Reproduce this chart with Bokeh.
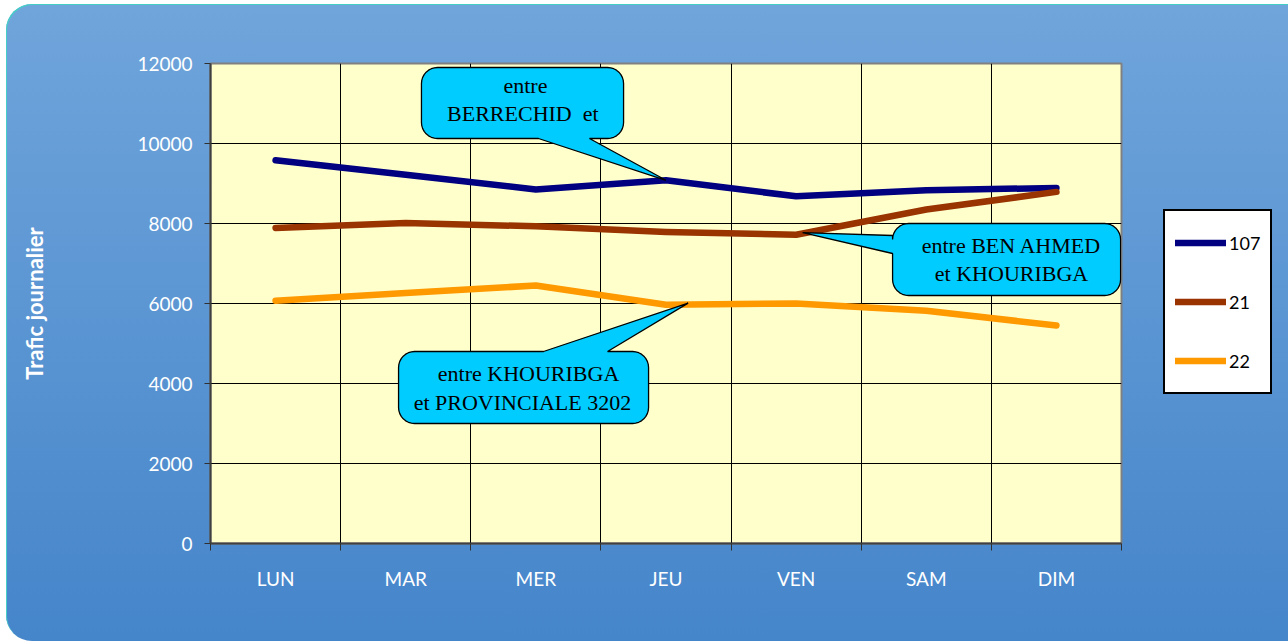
import math
from bokeh.plotting import figure
from bokeh.models import (FixedTicker, Legend, LegendItem, Range1d,
                          CustomJSTickFormatter, ColumnDataSource)
from bokeh.core.properties import value
from bokeh.embed import file_html
from bokeh.resources import INLINE

# ---------------- data ----------------
days = ["LUN", "MAR", "MER", "JEU", "VEN", "SAM", "DIM"]
route_107 = [9580, 9220, 8850, 9080, 8680, 8830, 8890]
route_21 = [7890, 8010, 7930, 7790, 7720, 8350, 8790]
route_22 = [6070, 6260, 6450, 5970, 6000, 5820, 5450]
series_names = ["107", "21", "22"]
series_colors = ["#000080", "#993300", "#FF9900"]
y_ticks = [0, 2000, 4000, 6000, 8000, 10000, 12000]
y_label = "Trafic journalier"

callout_texts = [
    ["entre", "BERRECHID\u00a0 et"],
    ["entre BEN AHMED", "et KHOURIBGA"],
    ["entre KHOURIBGA", "et PROVINCIALE 3202"],
]

# ---------------- layout ----------------
FW, FH = 911, 480
Y_MAX = 12000
N = len(days)
PX_X = FW / N
PX_Y = FH / Y_MAX

p = figure(
    frame_width=FW, frame_height=FH,
    min_border_left=204, min_border_right=167,
    min_border_top=59, min_border_bottom=98,
    x_range=Range1d(0, N), y_range=Range1d(0, Y_MAX),
    output_backend="svg", toolbar_location=None,
)
p.styles = {
    "background": "linear-gradient(#70A5DB, #4585CA)",
    "border-radius": "26px 0 0 26px",
    "margin-left": "6px",
    "margin-top": "4px",
    "box-shadow": "inset 1px 1px 0 0 #45CFC6",
}
p.border_fill_color = None
p.background_fill_color = "#FFFFCC"
p.outline_line_color = "#808080"
p.outline_line_width = 2

TICK_FONT = "Lato"

# y axis
yax = p.yaxis[0]
yax.ticker = FixedTicker(ticks=y_ticks)
yax.major_tick_out = 6
yax.major_tick_in = 0
yax.minor_tick_line_color = None
yax.major_tick_line_color = "#303030"
yax.axis_line_color = "#404040"
yax.axis_line_width = 2
yax.major_label_text_color = "white"
yax.major_label_text_font = TICK_FONT
yax.major_label_text_font_size = "19px"
yax.major_label_standoff = 12
yax.axis_label = y_label
yax.axis_label_text_color = "white"
yax.axis_label_text_font = TICK_FONT
yax.axis_label_text_font_style = "bold"
yax.axis_label_text_font_size = "22px"
yax.axis_label_standoff = 86

# x axis
xax = p.xaxis[0]
xax.ticker = FixedTicker(ticks=[i + 0.5 for i in range(N)],
                         minor_ticks=list(range(N + 1)))
xax.formatter = CustomJSTickFormatter(args=dict(labels=days),
                                      code="return labels[Math.floor(tick)];")
xax.major_tick_out = 0
xax.major_tick_in = 0
xax.major_tick_line_color = None
xax.minor_tick_out = 7
xax.minor_tick_in = 0
xax.minor_tick_line_color = "#303030"
xax.axis_line_color = "#404040"
xax.axis_line_width = 2
xax.major_label_text_color = "white"
xax.major_label_text_font = TICK_FONT
xax.major_label_text_font_size = "19px"
xax.major_label_standoff = 16

p.xgrid.ticker = FixedTicker(ticks=list(range(N + 1)))
p.xgrid.grid_line_color = "black"
p.xgrid.grid_line_width = 1
p.ygrid.grid_line_color = "black"
p.ygrid.grid_line_width = 1

# ---------------- lines ----------------
xs = [i + 0.5 for i in range(N)]
renderers = []
for vals, col in zip([route_107, route_21, route_22], series_colors):
    r = p.line(xs, vals, line_color=col, line_width=6.5,
               line_cap="round", line_join="round")
    renderers.append(r)

# ---------------- callouts ----------------
def rounded_callout(box, edge, base, tip, radius=16, n=8):
    """box=(x0,x1,v0,v1) in data units; returns polygon in data units."""
    x0, x1, v0, v1 = box
    X0, X1, Y0, Y1 = x0 * PX_X, x1 * PX_X, v0 * PX_Y, v1 * PX_Y
    tx, ty = tip[0] * PX_X, tip[1] * PX_Y
    r = radius
    pts = []

    def arc(cx, cy, a0, a1):
        for k in range(n + 1):
            a = math.radians(a0 + (a1 - a0) * k / n)
            pts.append((cx + r * math.cos(a), cy + r * math.sin(a)))

    pts.append((X0 + r, Y0))
    if edge == "bottom":
        a, b = base[0] * PX_X, base[1] * PX_X
        pts += [(a, Y0), (tx, ty), (b, Y0)]
    arc(X1 - r, Y0 + r, -90, 0)
    arc(X1 - r, Y1 - r, 0, 90)
    if edge == "top":
        a, b = base[0] * PX_X, base[1] * PX_X
        pts += [(b, Y1), (tx, ty), (a, Y1)]
    arc(X0 + r, Y1 - r, 90, 180)
    if edge == "left":
        a, b = base[0] * PX_Y, base[1] * PX_Y
        pts += [(X0, b), (tx, ty), (X0, a)]
    arc(X0 + r, Y0 + r, 180, 270)
    return [q[0] / PX_X for q in pts], [q[1] / PX_Y for q in pts]


callouts = [
    dict(box=(1.621, 3.174, 10125, 11900), edge="bottom", base=(2.52, 2.912),
         tip=(xs[3], route_107[3]),
         text_pos=[(2.42, 11450), (2.40, 10750)]),
    dict(box=(5.241, 6.993, 6200, 8000), edge="left", base=(7250, 7700),
         tip=(xs[4] + 0.05, route_21[4] + 50),
         text_pos=[(6.155, 7450), (6.155, 6750)]),
    dict(box=(1.445, 3.366, 3000, 4800), edge="top", base=(2.559, 3.051),
         tip=(xs[3] + 0.17, route_22[3] + 40),
         text_pos=[(2.444, 4250), (2.397, 3525)]),
]

for c, lines in zip(callouts, callout_texts):
    px, py = rounded_callout(c["box"], c["edge"], c["base"], c["tip"])
    p.patch(px, py, fill_color="#00CCFF", line_color="black", line_width=1.3)
    src = ColumnDataSource(dict(x=[t[0] for t in c["text_pos"]],
                                y=[t[1] for t in c["text_pos"]],
                                t=lines))
    p.text(x="x", y="y", text="t", source=src,
           text_font=value("Liberation Serif"), text_font_size="22px",
           text_color="black", text_align="center", text_baseline="middle")

# ---------------- legend ----------------
legend = Legend(
    items=[LegendItem(label=n, renderers=[r]) for n, r in zip(series_names, renderers)],
    location=(42, 149),
    orientation="vertical",
    padding=10, spacing=16, margin=0,
    glyph_width=51, glyph_height=43, label_height=43,
    label_standoff=3,
    label_text_font=TICK_FONT, label_text_font_size="18px",
    label_text_color="black",
    background_fill_color="white", background_fill_alpha=1,
    border_line_color="black", border_line_width=2, border_line_alpha=1,
)
p.add_layout(legend, "right")

open("out.html", "w").write(file_html(p, INLINE))
